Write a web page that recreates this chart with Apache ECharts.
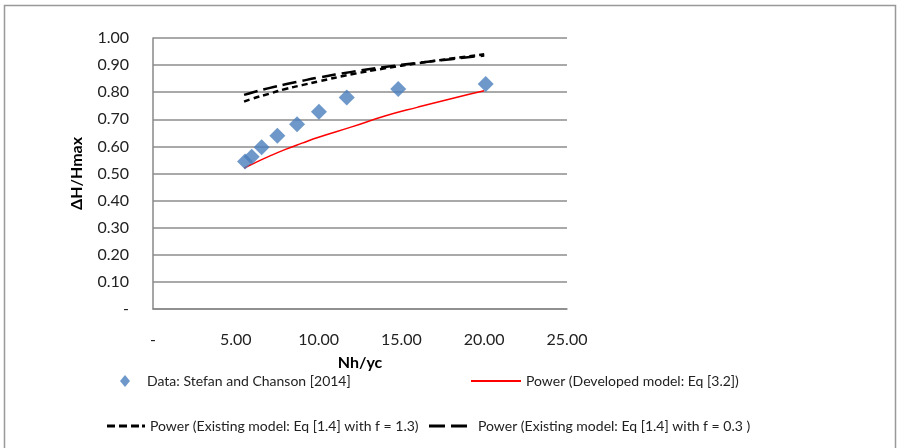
<!DOCTYPE html>
<html>
<head>
<meta charset="utf-8">
<style>html,body{margin:0;padding:0;background:#fff;}#c{width:901px;height:448px;}</style>
<script src="https://cdn.jsdelivr.net/npm/echarts@6/dist/echarts.min.js"></script>
</head>
<body>
<div id="c"></div>
<script>
// Measured data: Stefan and Chanson [2014]
const dataX = [5.56, 5.96, 6.56, 7.51, 8.70, 10.02, 11.70, 14.81, 20.09];
const dataY = [0.544, 0.562, 0.597, 0.639, 0.682, 0.728, 0.780, 0.812, 0.830];
// Trend lines
const devX = [5.5, 6, 7, 8, 9, 10, 12, 14, 16, 18, 20];
const devY = [0.520, 0.535, 0.563, 0.589, 0.612, 0.634, 0.672, 0.712, 0.745, 0.776, 0.805];
const f13X = [5.5, 6, 7, 8, 9, 10, 12, 14, 16, 18, 20];
const f13Y = [0.765, 0.776, 0.794, 0.812, 0.826, 0.840, 0.866, 0.888, 0.907, 0.924, 0.940];
const f03X = [5.5, 6, 7, 8, 9, 10, 12, 14, 16, 18, 20];
const f03Y = [0.790, 0.799, 0.815, 0.829, 0.842, 0.854, 0.875, 0.893, 0.908, 0.922, 0.935];
const xTicks = [0, 5, 10, 15, 20, 25];
const yTicks = [0, 0.1, 0.2, 0.3, 0.4, 0.5, 0.6, 0.7, 0.8, 0.9, 1.0];

const names = ['Data: Stefan and Chanson [2014]', 'Power (Developed model: Eq [3.2])',
  'Power (Existing model: Eq [1.4] with f = 1.3)', 'Power (Existing model: Eq [1.4] with f = 0.3 )'];
const zip = (a, b) => a.map((v, i) => [v, b[i]]);
const fmt = v => (Math.abs(v) < 1e-9 ? '-' : v.toFixed(2));
const FONT = 'Lato';

const shortDashIcon = 'path://M0,0h8v3h-8z M12,0h8v3h-8z M24,0h8v3h-8z M35,0h3v3h-3z';
const longDashIcon = 'path://M0,0h16v3h-16z M22,0h16v3h-16z';

const chart = echarts.init(document.getElementById('c'));
const legTxt = {fontFamily: FONT, fontSize: 14, color: '#222'};
chart.setOption({
  animation: false,
  backgroundColor: '#fff',
  textStyle: {fontFamily: FONT},
  graphic: [{type: 'rect', shape: {x: 4.5, y: 5.5, width: 891, height: 450}, style: {fill: 'none', stroke: '#999', lineWidth: 1.5}, z: -1}],
  grid: {left: 153, top: 38, width: 414, height: 271},
  xAxis: {
    type: 'value', min: 0, max: 25, interval: 5,
    name: 'Nh/yc', nameLocation: 'middle', nameGap: 46,
    nameTextStyle: {fontFamily: FONT, fontSize: 16, fontWeight: 'bold', color: '#000'},
    axisLine: {lineStyle: {color: '#888', width: 1.5}},
    axisTick: {show: false},
    splitLine: {show: false},
    axisLabel: {fontFamily: FONT, fontSize: 16, color: '#222', margin: 23, formatter: fmt}
  },
  yAxis: {
    type: 'value', min: 0, max: 1, interval: 0.1,
    name: 'ΔH/Hmax', nameLocation: 'middle', nameGap: 68, nameRotate: 90,
    nameTextStyle: {fontFamily: FONT, fontSize: 16, fontWeight: 'bold', color: '#000'},
    axisLine: {show: true, lineStyle: {color: '#888', width: 1.5}},
    axisTick: {show: false},
    splitLine: {lineStyle: {color: '#8c8c8c', width: 1.5}},
    axisLabel: {fontFamily: FONT, fontSize: 16, color: '#222', margin: 24, formatter: fmt}
  },
  legend: [
    {left: 115, top: 369, data: [{name: names[0], icon: 'diamond'}], itemWidth: 10, itemHeight: 12, textStyle: Object.assign({padding: [0, 0, 0, 12]}, legTxt)},
    {left: 466, top: 369, data: [{name: names[1], icon: 'rect'}], itemWidth: 50, itemHeight: 2, textStyle: legTxt},
    {left: 102, top: 414, data: [{name: names[2], icon: shortDashIcon}], itemWidth: 38, itemHeight: 3, textStyle: legTxt},
    {left: 424, top: 414, data: [{name: names[3], icon: longDashIcon}], itemWidth: 38, itemHeight: 3, textStyle: Object.assign({padding: [0, 0, 0, 6]}, legTxt)}
  ],
  series: [
    {name: names[0], type: 'scatter', symbol: 'diamond', symbolSize: 16, itemStyle: {color: '#4a7ebb'}, data: zip(dataX, dataY), z: 5},
    {name: names[1], type: 'line', showSymbol: false, symbol: 'none', smooth: true, lineStyle: {color: '#ff0000', width: 1.5}, itemStyle: {color: '#ff0000'}, data: zip(devX, devY)},
    {name: names[2], type: 'line', showSymbol: false, symbol: 'none', smooth: true, lineStyle: {color: '#000', width: 2.5, type: [6, 4]}, itemStyle: {color: '#000'}, data: zip(f13X, f13Y)},
    {name: names[3], type: 'line', showSymbol: false, symbol: 'none', smooth: true, lineStyle: {color: '#000', width: 2.5, type: [14, 6]}, itemStyle: {color: '#000'}, data: zip(f03X, f03Y)}
  ]
});
</script>
</body>
</html>
